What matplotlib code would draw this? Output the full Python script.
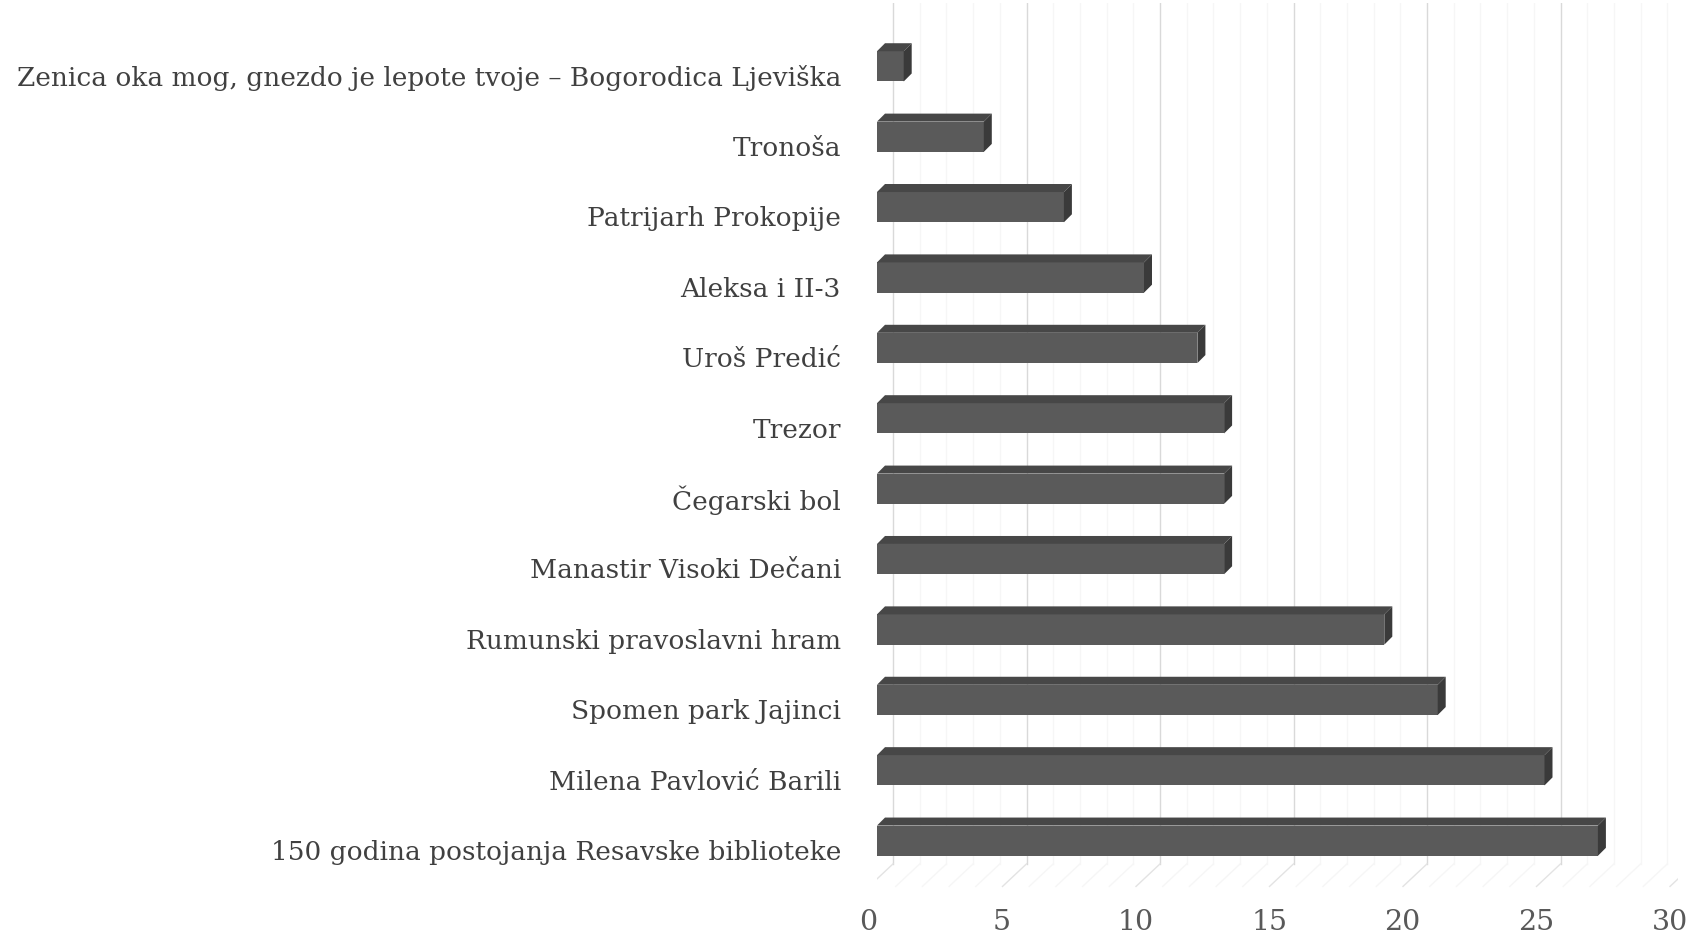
import numpy as np
import matplotlib
matplotlib.use('Agg')
import matplotlib.pyplot as plt
import matplotlib.transforms as mtransforms
from matplotlib.patches import Polygon

categories = ['Zenica oka mog, gnezdo je lepote tvoje – Bogorodica Ljeviška',
              'Tronoša', 'Patrijarh Prokopije', 'Aleksa i II-3', 'Uroš Predić',
              'Trezor', 'Čegarski bol', 'Manastir Visoki Dečani',
              'Rumunski pravoslavni hram', 'Spomen park Jajinci',
              'Milena Pavlović Barili', '150 godina postojanja Resavske biblioteke']
values = [1, 4, 7, 10, 12, 13, 13, 13, 19, 21, 25, 27]
xticks = [0, 5, 10, 15, 20, 25, 30]

W, H, DPI = 1686, 937, 100
fig = plt.figure(figsize=(W / DPI, H / DPI), dpi=DPI)
# axes: x 0..30 -> px 877..1678, y -0.9..11.8 -> px 4..898
ax = fig.add_axes([877 / W, 1 - 898 / H, 801 / W, 894 / H])
ax.set_xlim(0, 30)
ax.set_ylim(11.8, -0.9)
for s in ax.spines.values():
    s.set_visible(False)

ux = 801 / 30.0          # px per x unit
uy = 894 / 12.7          # px per y unit
dx = 8 / ux              # depth offset of the 3D box
dy = 8 / uy
back = 16 / ux           # back wall shift
front = -8 / ux          # front floor shift
floor_back, floor_front = 11.33, 11.65

# gridlines on the back wall and the floor
for t in np.arange(0, 31, 1):
    major = t % 5 == 0
    col = '#d9d9d9' if major else '#f6f6f6'
    ax.plot([t + back, t + back], [-0.9, floor_back], color=col, lw=1.0, zorder=0)
    ax.plot([t + back, t + front], [floor_back, floor_front],
            color='#e3e3e3' if major else '#f6f6f6', lw=1.0, zorder=0)

y = np.arange(len(categories))
h = 0.43
ax.barh(y, values, height=h, color='#5a5a5a', zorder=3)
for yi, v in zip(y, values):
    top = yi - h / 2
    bot = yi + h / 2
    ax.add_patch(Polygon([(0, top), (v, top), (v + dx, top - dy), (dx, top - dy)],
                         closed=True, facecolor='#474747', edgecolor='none', zorder=3))
    ax.add_patch(Polygon([(v, top), (v + dx, top - dy), (v + dx, bot - dy), (v, bot)],
                         closed=True, facecolor='#3a3a3a', edgecolor='none', zorder=3))

ax.set_yticks(y)
ax.set_yticklabels(categories, fontsize=19, color='#404040', family='DejaVu Serif')
ax.tick_params(axis='y', length=0, pad=26)
ax.set_xticks(xticks)
ax.set_xticklabels([str(t) for t in xticks], fontsize=20.5, color='#595959', family='DejaVu Serif')
ax.tick_params(axis='x', length=0, pad=8)

off_y = mtransforms.ScaledTranslation(0, -6 / 72, fig.dpi_scale_trans)
for lab in ax.get_yticklabels():
    lab.set_transform(lab.get_transform() + off_y)
off_x = mtransforms.ScaledTranslation(-6 / 72, 0, fig.dpi_scale_trans)
for lab in ax.get_xticklabels():
    lab.set_transform(lab.get_transform() + off_x)

fig.savefig('out.png', dpi=DPI)
